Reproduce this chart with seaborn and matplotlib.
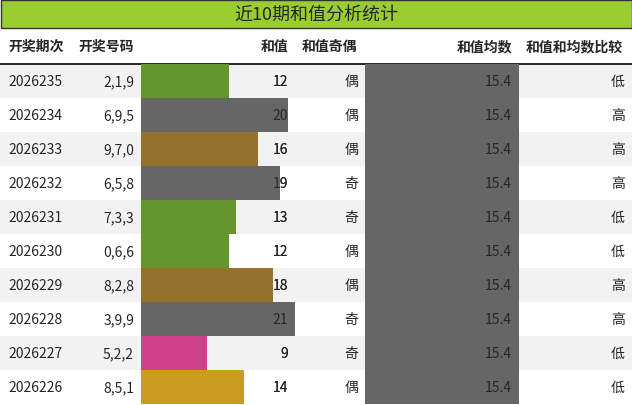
import matplotlib
matplotlib.use("Agg")
import matplotlib.pyplot as plt
import seaborn as sns
import pandas as pd
from matplotlib.patches import Rectangle

sns.set_style("white")
plt.rcParams['font.family'] = ['Noto Sans CJK SC', 'DejaVu Sans']

periods = ["2026235", "2026234", "2026233", "2026232", "2026231",
           "2026230", "2026229", "2026228", "2026227", "2026226"]
numbers = ["2,1,9", "6,9,5", "9,7,0", "6,5,8", "7,3,3",
           "0,6,6", "8,2,8", "3,9,9", "5,2,2", "8,5,1"]
sums = [12, 20, 16, 19, 13, 12, 18, 21, 9, 14]
parity = ["偶", "偶", "偶", "奇", "奇", "偶", "偶", "奇", "奇", "偶"]
avg = [15.4] * 10
compare = ["低", "高", "高", "高", "低", "低", "高", "高", "低", "低"]
bar_colors = ["#66a61e", "#666666", "#a6761d", "#666666", "#66a61e",
              "#66a61e", "#a6761d", "#666666", "#e7298a", "#e6ab02"]

W, H = 632, 406
fig = plt.figure(figsize=(W / 100, H / 100), dpi=100)
ax = fig.add_axes([0, 0, 1, 1])
ax.set_xlim(0, W)
ax.set_ylim(H, 0)
ax.axis("off")

top, head_h, row_h = 29, 36, 34
rows0 = top + head_h
# title bar
ax.add_patch(Rectangle((0.5, 0.5), W - 1, top - 1, facecolor="#9acd32", edgecolor="#333333", lw=1))
ax.text(W / 2, top / 2, "近10期和值分析统计", ha="center", va="center", fontsize=13)

heads = [("开奖期次", 8, "left"), ("开奖号码", 134, "right"), ("和值", 288, "right"),
         ("和值奇偶", 302, "left"), ("和值均数", 512, "right"), ("和值和均数比较", 526, "left")]
for t, x, ha in heads:
    ax.text(x, top + head_h / 2, t, ha=ha, va="center", fontsize=10, fontweight="bold")

for i in range(10):
    y = rows0 + i * row_h
    if i % 2 == 0:
        ax.add_patch(Rectangle((0, y), W, row_h, facecolor="#f2f2f2", lw=0))
    cy = y + row_h / 2
    ax.text(8, cy, periods[i], ha="left", va="center", fontsize=10)
    ax.text(134, cy, numbers[i], ha="right", va="center", fontsize=10)
    ax.text(288, cy, str(sums[i]), ha="right", va="center", fontsize=10, zorder=5)
    ax.text(358, cy, parity[i], ha="right", va="center", fontsize=10)
    ax.text(512, cy, f"{avg[i]}", ha="right", va="center", fontsize=10, zorder=5)
    ax.text(625, cy, compare[i], ha="right", va="center", fontsize=10)
ax.plot([0, W], [rows0, rows0], color="black", lw=1.2)

df = pd.DataFrame({"row": [str(i) for i in range(10)], "sum": sums, "avg": avg})
y0 = 1 - (rows0 + 10 * row_h) / H
hh = 10 * row_h / H

bx1 = fig.add_axes([141 / W, y0, 154 / W, hh])
sns.barplot(data=df, y="row", x="sum", hue="row", palette=bar_colors, legend=False,
            width=1.0, orient="h", ax=bx1)
bx1.set_xlim(0, 21)
bx2 = fig.add_axes([365 / W, y0, 154 / W, hh])
sns.barplot(data=df, y="row", x="avg", color="#666666", width=1.0, orient="h", ax=bx2)
bx2.set_xlim(0, 15.4)
for b in (bx1, bx2):
    b.set_ylim(9.5, -0.5)
    b.axis("off")
    b.patch.set_alpha(0)
    for p in b.patches:
        p.set_edgecolor("none")
        p.set_alpha(1)

# redraw number texts on top of bars
for i in range(10):
    cy = rows0 + i * row_h + row_h / 2
    fig.text(288 / W, 1 - cy / H, str(sums[i]), ha="right", va="center", fontsize=10)
    fig.text(512 / W, 1 - cy / H, f"{avg[i]}", ha="right", va="center", fontsize=10)

fig.savefig("out.png", dpi=100)
